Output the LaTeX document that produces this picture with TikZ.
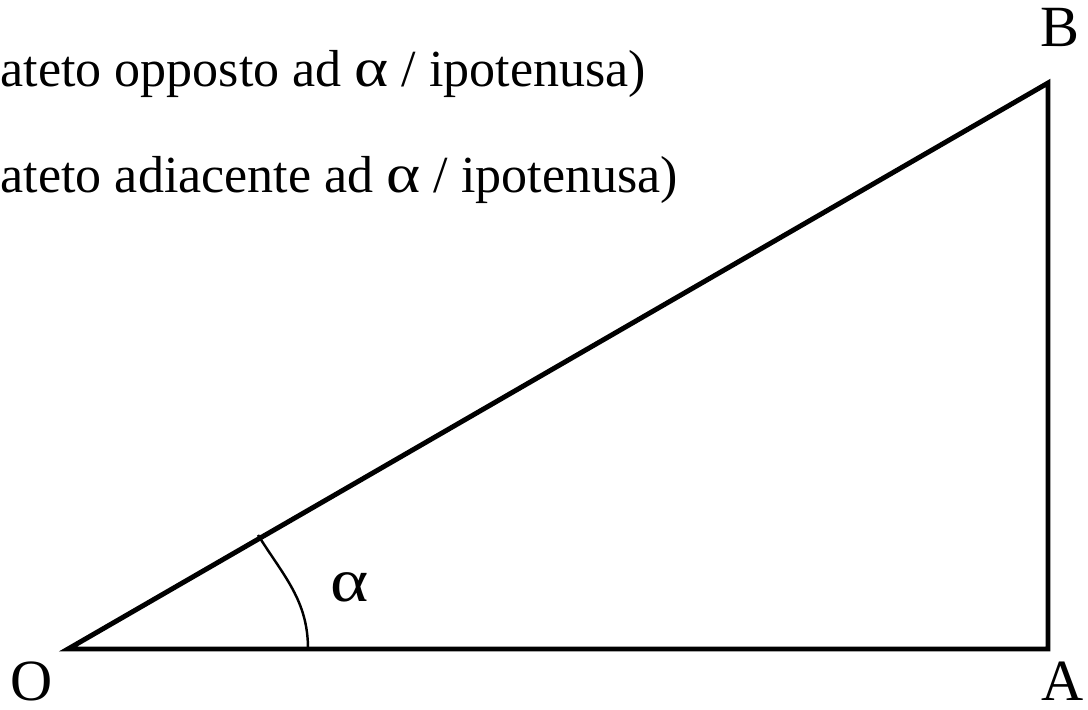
\documentclass[tikz,border=0pt]{standalone}
\usepackage{fontspec}
\setmainfont{Liberation Serif}
\usepackage{graphicx}
\usepackage{tikz}

\newcommand{\alfa}{\scalebox{1.25}[1.05]{α}}

\begin{document}
\begin{tikzpicture}[x=0.01cm, y=-0.01cm,
	lato/.style={line width=1.4pt},
	testo/.style={anchor=base west, inner sep=0pt, font=\fontsize{14.8pt}{17pt}\selectfont},
	etichetta/.style={anchor=base west, inner sep=0pt, font=\fontsize{16.6pt}{20pt}\selectfont}
	]
	\useasboundingbox (0,0) rectangle (1088,710);

	%Vertici del triangolo
	\coordinate (O) at (68,649);
	\coordinate (A) at (1048,649);
	\coordinate (B) at (1048,83);
	\coordinate (p1) at (308,649);
	\coordinate (p2) at (258,535);

	%Lati
	\draw[lato] (O) -- (A) -- (B) -- cycle;
	%Arco dell'angolo
	\draw[line width=0.7pt] (p1) to[out=90, in=-58] (p2);

	%Etichette
	\node[etichetta] (lO) at (10,700) {O};
	\node[etichetta] (lA) at (1041,700) {A};
	\node[etichetta] (lB) at (1040,47) {B};
	\node[etichetta] (alfa) at (330,602) {\alfa};

	%Testi
	\node[testo] (seno) at (0,87) {ateto opposto ad \alfa{} / ipotenusa)};
	\node[testo] (coseno) at (0,193) {ateto adiacente ad \alfa{} / ipotenusa)};
\end{tikzpicture}
\end{document}
